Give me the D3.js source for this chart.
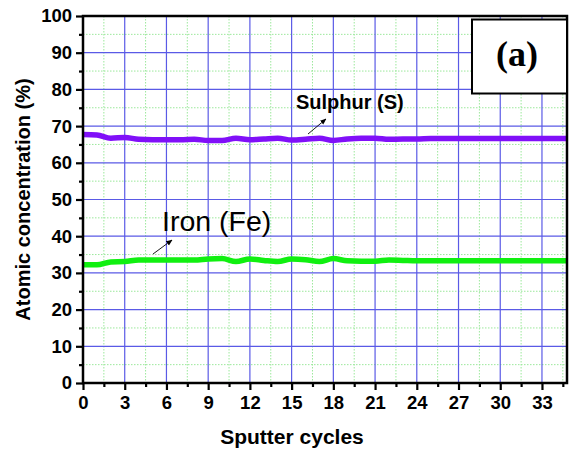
<!DOCTYPE html>
<html><head><meta charset="utf-8">
<script src="https://cdn.jsdelivr.net/npm/d3@7"></script>
<style>body{margin:0;background:#fff}svg{display:block}</style>
</head><body>
<svg id="c" width="570" height="457"></svg>
<script>
const cycles = d3.range(0, 36);
const sulphur = [67.7,67.6,66.7,66.9,66.4,66.3,66.3,66.3,66.4,66.1,66.1,66.7,66.3,66.5,66.7,66.2,66.4,66.7,66.1,66.5,66.7,66.7,66.4,66.5,66.5,66.6,66.6,66.6,66.6,66.6,66.6,66.6,66.6,66.6,66.6,66.6];
const iron = [32.2,32.2,33.0,33.1,33.5,33.5,33.5,33.5,33.5,33.8,33.9,33.1,33.8,33.4,33.1,33.8,33.6,33.1,33.9,33.3,33.2,33.2,33.5,33.4,33.3,33.3,33.3,33.3,33.3,33.3,33.3,33.3,33.3,33.3,33.3,33.3];
const xTicks = d3.range(0, 34, 3);
const xMinor = d3.range(1.5, 35, 3);
const yTicks = d3.range(0, 101, 10);
const yMinor = d3.range(5, 100, 10);

const svg = d3.select("#c");
const L = 83, R = 567, T = 16, B = 383;
const x = d3.scaleLinear().domain([0, 34.8]).range([L, R]);
const y = d3.scaleLinear().domain([0, 100]).range([B, T]);

svg.append("defs").append("clipPath").attr("id","clip").append("rect")
  .attr("x", L).attr("y", T).attr("width", R - L).attr("height", B - T);

// minor grid
const g = svg.append("g");
g.selectAll(".mx").data(xMinor).join("line")
  .attr("x1", d => x(d)).attr("x2", d => x(d)).attr("y1", T).attr("y2", B)
  .attr("stroke", "#9be89b").attr("stroke-width", 1).attr("stroke-dasharray", "1.5,1.5");
g.selectAll(".my").data(yMinor).join("line")
  .attr("y1", d => y(d)).attr("y2", d => y(d)).attr("x1", L).attr("x2", R)
  .attr("stroke", "#9be89b").attr("stroke-width", 1).attr("stroke-dasharray", "1.5,1.5");
// major grid
g.selectAll(".Mx").data(xTicks.filter(d => d > 0)).join("line")
  .attr("x1", d => x(d)).attr("x2", d => x(d)).attr("y1", T).attr("y2", B)
  .attr("stroke", "#5a5ae6").attr("stroke-width", 1.2);
g.selectAll(".My").data(yTicks.filter(d => d > 0 && d < 100)).join("line")
  .attr("y1", d => y(d)).attr("y2", d => y(d)).attr("x1", L).attr("x2", R)
  .attr("stroke", "#5a5ae6").attr("stroke-width", 1.2);

// lines
const line = d3.line().x((d, i) => x(cycles[i])).y(d => y(d)).curve(d3.curveMonotoneX);
const lg = svg.append("g").attr("clip-path", "url(#clip)");
lg.append("path").datum(sulphur).attr("d", line).attr("fill", "none")
  .attr("stroke", "#8010f8").attr("stroke-width", 5.5).attr("stroke-linejoin", "round");
lg.append("path").datum(iron).attr("d", line).attr("fill", "none")
  .attr("stroke", "#10f010").attr("stroke-width", 5.5).attr("stroke-linejoin", "round");

// axes
const font = "Liberation Sans, Arial, sans-serif";
const xAxis = svg.append("g").attr("transform", `translate(0,${B})`)
  .call(d3.axisBottom(x).tickValues(xTicks).tickSize(7).tickPadding(6).tickFormat(d3.format("d")));
const xAxisMin = svg.append("g").attr("transform", `translate(0,${B})`)
  .call(d3.axisBottom(x).tickValues(xMinor).tickSize(4).tickFormat(""));
const yAxis = svg.append("g").attr("transform", `translate(${L},0)`)
  .call(d3.axisLeft(y).tickValues(yTicks).tickSize(7).tickPadding(4).tickFormat(d3.format("d")));
const yAxisMin = svg.append("g").attr("transform", `translate(${L},0)`)
  .call(d3.axisLeft(y).tickValues(yMinor).tickSize(4).tickFormat(""));
[xAxis, xAxisMin, yAxis, yAxisMin].forEach(a => {
  a.select(".domain").remove();
  a.selectAll(".tick line").attr("stroke", "#000").attr("stroke-width", 2.2);
  a.selectAll("text").attr("fill", "#000").style("font-family", font)
    .style("font-weight", "bold").style("font-size", "18.5px");
});

// frame
svg.append("rect").attr("x", L).attr("y", T).attr("width", R - L).attr("height", B - T)
  .attr("fill", "none").attr("stroke", "#000").attr("stroke-width", 2.5);

// axis titles
svg.append("text").attr("x", 292).attr("y", 444).attr("text-anchor", "middle")
  .style("font-family", font).style("font-weight", "bold").style("font-size", "21px")
  .text("Sputter cycles");
svg.append("text").attr("transform", `translate(30,${(T + B) / 2}) rotate(-90)`)
  .attr("text-anchor", "middle")
  .style("font-family", font).style("font-weight", "bold").style("font-size", "20px")
  .text("Atomic concentration (%)");

// annotations
svg.append("text").attr("x", 296).attr("y", 109)
  .style("font-family", font).style("font-weight", "bold").style("font-size", "20px")
  .text("Sulphur (S)");
svg.append("text").attr("x", 162).attr("y", 231)
  .style("font-family", font).style("font-size", "28.5px")
  .text("Iron (Fe)");

const defs = svg.select("defs");
defs.append("marker").attr("id", "arr").attr("viewBox", "0 0 10 10").attr("refX", 9).attr("refY", 5)
  .attr("markerWidth", 7).attr("markerHeight", 7).attr("orient", "auto")
  .append("path").attr("d", "M0,1 L10,5 L0,9 Z").attr("fill", "#000");
svg.append("line").attr("x1", 308).attr("y1", 134).attr("x2", 326).attr("y2", 119)
  .attr("stroke", "#000").attr("stroke-width", 0.9).attr("marker-end", "url(#arr)");
svg.append("line").attr("x1", 153).attr("y1", 254).attr("x2", 172).attr("y2", 240)
  .attr("stroke", "#000").attr("stroke-width", 0.9).attr("marker-end", "url(#arr)");

// (a) box
svg.append("rect").attr("x", 472).attr("y", 19.5).attr("width", 95).attr("height", 74)
  .attr("fill", "#fff").attr("stroke", "#000").attr("stroke-width", 2);
svg.append("text").attr("x", 517).attr("y", 66).attr("text-anchor", "middle")
  .style("font-family", "Liberation Serif, Times New Roman, serif").style("font-weight", "bold")
  .style("font-size", "36px").text("(a)");
</script>
</body></html>
